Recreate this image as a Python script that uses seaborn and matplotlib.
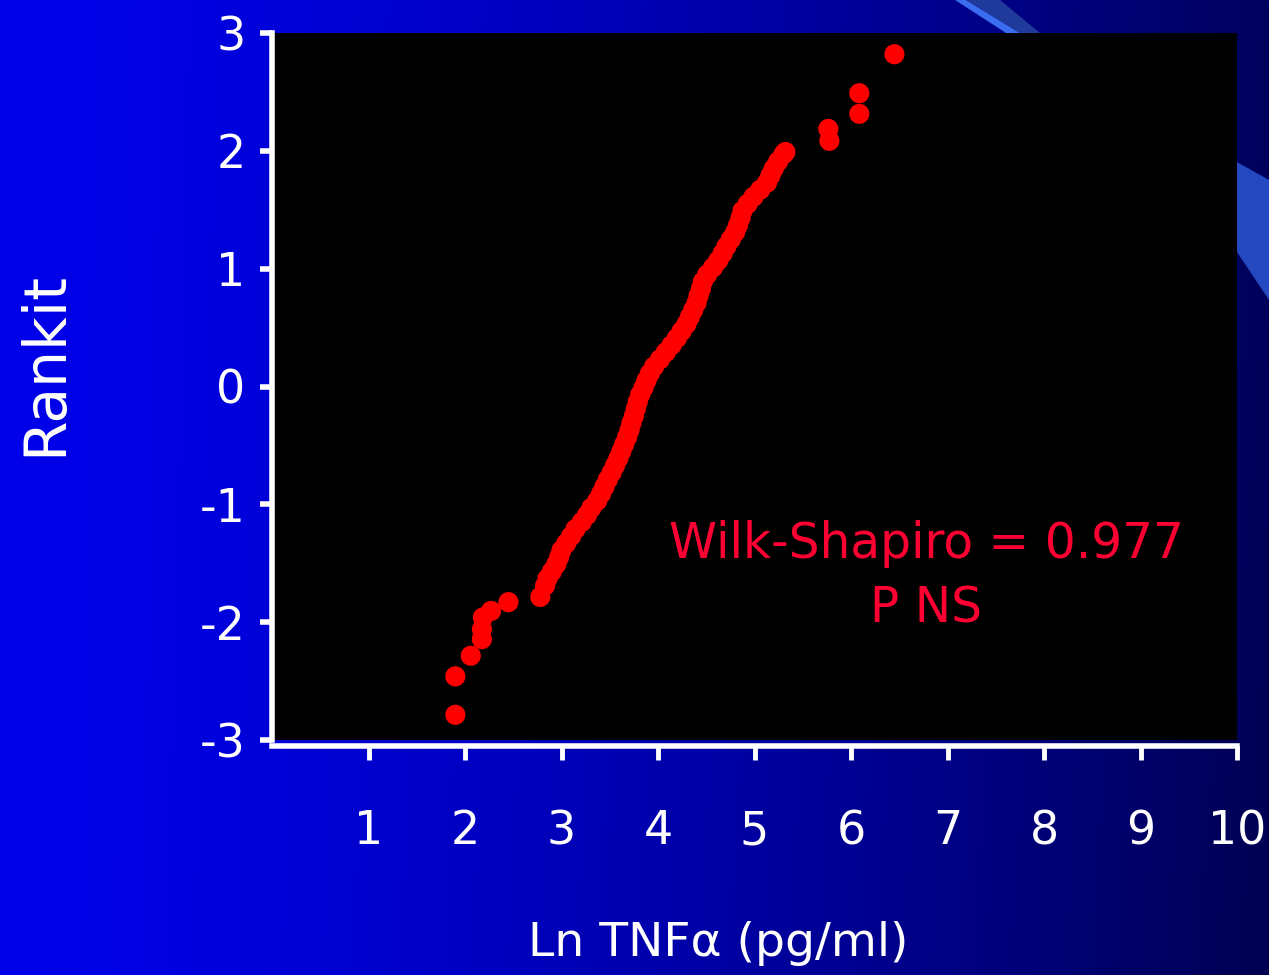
import numpy as np
import matplotlib
matplotlib.use("Agg")
import matplotlib.pyplot as plt
import seaborn as sns
from matplotlib.patches import Polygon

plt.rcParams['axes.unicode_minus'] = False
plt.rcParams['font.family'] = ['DejaVu Sans']

# ---- data (Ln TNFa vs rankit) ----
low_x = [1.90, 1.90, 2.06, 2.175, 2.175, 2.185, 2.27, 2.45, 2.78]
low_y = [-2.786, -2.46, -2.285, -2.144, -2.06, -1.96, -1.905, -1.83, -1.786]

band_x = [2.83, 2.855, 2.90, 2.945, 2.975, 3.00, 3.05, 3.10, 3.145, 3.21,
          3.265, 3.31, 3.37, 3.41, 3.445, 3.48, 3.52, 3.555, 3.59, 3.62,
          3.65, 3.68, 3.705, 3.725, 3.75, 3.77, 3.79, 3.815, 3.85, 3.88,
          3.915, 3.96, 4.02, 4.08, 4.14, 4.195, 4.245, 4.295, 4.33, 4.365,
          4.40, 4.42, 4.445, 4.465, 4.51, 4.57, 4.625, 4.67, 4.71, 4.755,
          4.80, 4.83, 4.855, 4.875, 4.93, 4.99, 5.06, 5.13, 5.165, 5.20,
          5.245, 5.30, 5.32]
band_y = [-1.69, -1.63, -1.57, -1.51, -1.45, -1.39, -1.33, -1.27, -1.21, -1.15,
          -1.09, -1.03, -0.97, -0.91, -0.85, -0.79, -0.73, -0.67, -0.61, -0.55,
          -0.49, -0.43, -0.37, -0.31, -0.25, -0.19, -0.13, -0.07, -0.01, 0.05,
          0.11, 0.17, 0.23, 0.29, 0.35, 0.41, 0.47, 0.53, 0.59, 0.65,
          0.71, 0.77, 0.83, 0.89, 0.95, 1.01, 1.07, 1.13, 1.19, 1.25,
          1.31, 1.37, 1.43, 1.49, 1.55, 1.61, 1.67, 1.73, 1.79, 1.85,
          1.91, 1.97, 1.99]

high_x = [5.765, 5.776, 6.086, 6.086, 6.45]
high_y = [2.186, 2.085, 2.489, 2.314, 2.82]

x_ticks = [1, 2, 3, 4, 5, 6, 7, 8, 9, 10]
y_ticks = [-3, -2, -1, 0, 1, 2, 3]

xs = low_x + band_x + high_x
ys = low_y + band_y + high_y

W, H = 1269, 975
fig = plt.figure(figsize=(W / 100, H / 100), dpi=100)

# background gradient
bg = fig.add_axes([0, 0, 1, 1], zorder=-5)
t = np.linspace(0, 1, 400)
grad_row = 234 - 140 * t ** 1.4
yy = np.linspace(0, 1, 200)[:, None]
blue = grad_row[None, :] - 12 * yy * t[None, :]
img = np.zeros((200, 400, 3))
img[..., 2] = np.clip(blue, 0, 255) / 255.0
bg.imshow(img, extent=[0, W, H, 0], aspect='auto')
bg.add_patch(Polygon([[955, 0], [966, 0], [1020, 33], [1006, 33]],
                     closed=True, color='#3a6cf0', lw=0))
bg.add_patch(Polygon([[966, 0], [1000, 0], [1040, 33], [1020, 33]],
                     closed=True, color='#1f3a9a', lw=0))
bg.add_patch(Polygon([[1237, 162], [1269, 180], [1269, 300], [1237, 252]],
                     closed=True, color='#2448c0', lw=0))
bg.set_xlim(0, W)
bg.set_ylim(H, 0)
bg.axis('off')

ax = fig.add_axes([272 / W, 1 - 740 / H, (1237 - 272) / W, (740 - 33) / H])
ax.set_facecolor('black')
sns.scatterplot(x=xs, y=ys, ax=ax, color='#ff0000', s=210,
                edgecolor='none', linewidth=0, marker='o', legend=False)

ax.set_xlim(0, 10)
ax.set_ylim(-3, 3)
ax.set_xticks(x_ticks)
ax.set_yticks(y_ticks)
ax.set_xticklabels([str(v) for v in x_ticks])
ax.set_yticklabels([str(v) for v in y_ticks])

for s in ['top', 'right']:
    ax.spines[s].set_visible(False)
for s in ['left', 'bottom']:
    ax.spines[s].set_color('white')
    ax.spines[s].set_linewidth(4)
ax.spines['bottom'].set_position(('outward', 4))

ax.tick_params(axis='x', colors='white', direction='out', length=10, width=3.5,
               pad=36, labelsize=33)
ax.tick_params(axis='y', colors='white', direction='out', length=9, width=4,
               pad=10, labelsize=33)
ax.set_xlabel('')
ax.set_ylabel('')

ax.text(6.78, -1.34, 'Wilk-Shapiro = 0.977', color='#ff0033', fontsize=35,
        ha='center', va='center')
ax.text(6.78, -1.88, 'P NS', color='#ff0033', fontsize=35,
        ha='center', va='center')

fig.text(45 / W, 1 - 364 / H, 'Rankit', rotation=90, color='white',
         fontsize=42, ha='center', va='center')
fig.text(718 / W, 1 - 943 / H, 'Ln TNF\u03b1 (pg/ml)', color='white',
         fontsize=34, ha='center', va='center')

fig.savefig('out.png', dpi=100)
